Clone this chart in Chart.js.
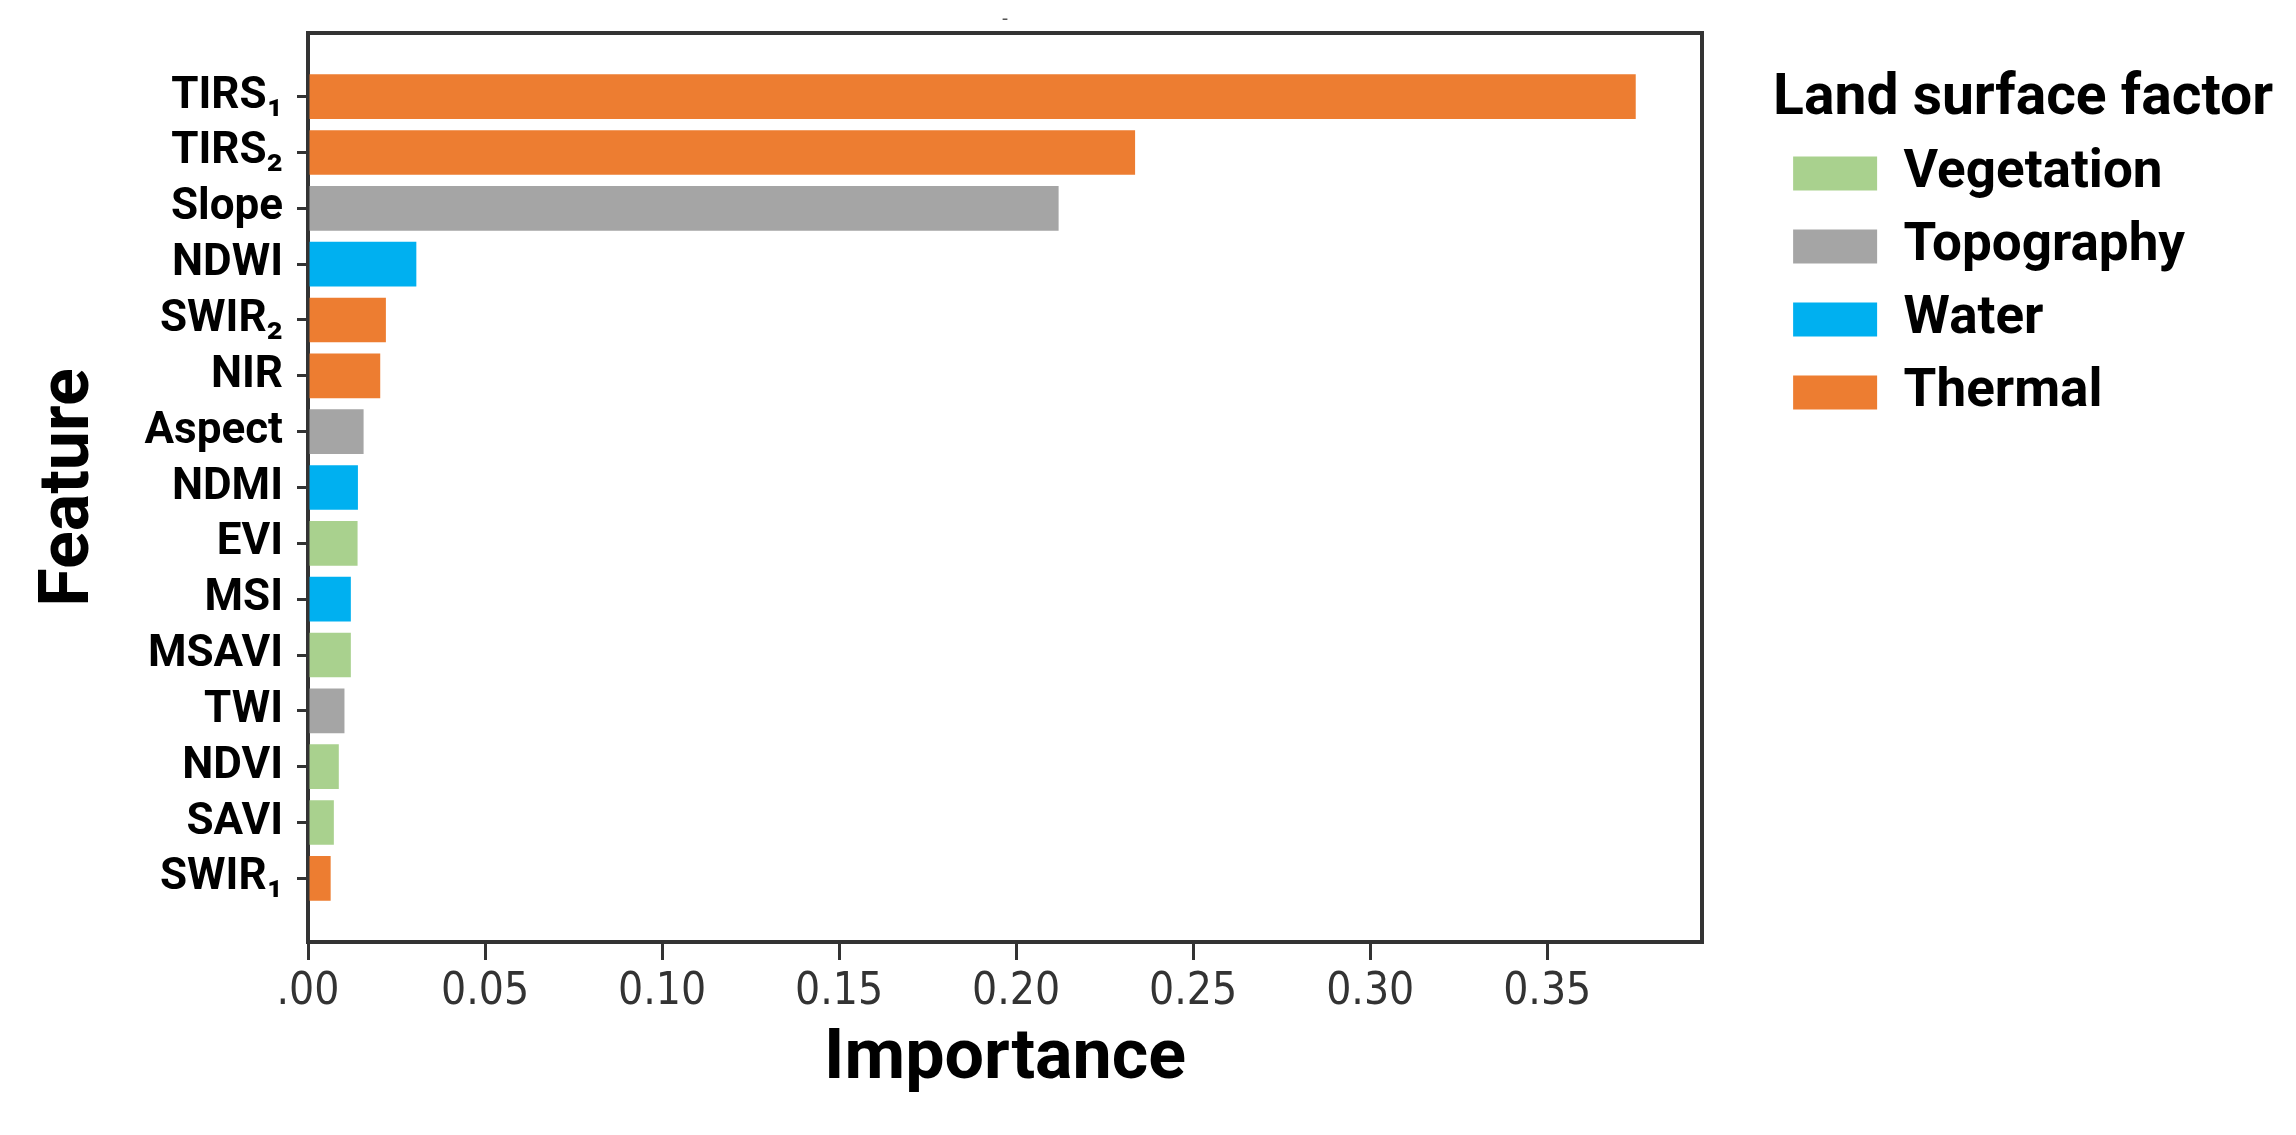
<!DOCTYPE html>
<html>
<head>
<meta charset="utf-8">
<script src="https://cdn.jsdelivr.net/npm/chart.js@4.4.1/dist/chart.umd.min.js"></script>
<style>
  html, body { margin: 0; padding: 0; background: #fff; }
  #wrap { width: 2296px; height: 1135px; position: relative; }
</style>
</head>
<body>
<div id="wrap"><canvas id="importanceChart"></canvas></div>
<script>
// features, top to bottom
const features = ['TIRS₁', 'TIRS₂', 'Slope', 'NDWI', 'SWIR₂', 'NIR', 'Aspect', 'NDMI',
                  'EVI', 'MSI', 'MSAVI', 'TWI', 'NDVI', 'SAVI', 'SWIR₁'];
const importance = [0.375, 0.2336, 0.212, 0.0306, 0.0220, 0.0204, 0.0157, 0.0141,
                    0.0140, 0.0121, 0.0121, 0.0103, 0.0087, 0.0073, 0.0064];
const factorOf = ['Thermal', 'Thermal', 'Topography', 'Water', 'Thermal', 'Thermal', 'Topography', 'Water',
                  'Vegetation', 'Water', 'Vegetation', 'Topography', 'Vegetation', 'Vegetation', 'Thermal'];
const factors = ['Vegetation', 'Topography', 'Water', 'Thermal'];
const factorColors = ['#A9D18E', '#A5A5A5', '#00B0F0', '#ED7D31'];
const xTicks = [0, 0.05, 0.10, 0.15, 0.20, 0.25, 0.30, 0.35];

const BOLD_FONT = "Roboto, 'DejaVu Sans Condensed', sans-serif";
const TICK_FONT = "'DejaVu Sans Condensed', 'DejaVu Sans', sans-serif";
const AXIS = '#333333';

Chart.defaults.font.family = BOLD_FONT;
Chart.defaults.color = '#000';

// one dataset per land surface factor so the legend comes for free
const datasets = factors.map((f, k) => ({
    label: f,
    data: features.map((name, i) => ({ x: importance[i], y: i }))
                  .filter((p) => factorOf[p.y] === f),
    backgroundColor: factorColors[k],
    borderWidth: 0,
    grouped: false,
    barPercentage: 0.8,
    categoryPercentage: 1.0,
}));

// legend title is wider than the items, let it run to the canvas edge instead of being clipped
const wideLegend = {
    id: 'wideLegend',
    afterLayout(chart) {
        if (chart.legend) chart.legend.right = chart.width;
    },
};

const ctx = document.getElementById('importanceChart').getContext('2d');
const chart = new Chart(ctx, {
    type: 'bar',
    data: { datasets: datasets },
    plugins: [wideLegend],
    options: {
        indexAxis: 'y',
        responsive: true,
        maintainAspectRatio: false,
        animation: false,
        layout: { padding: { left: 0, right: 101, top: 0, bottom: 0 } },
        plugins: {
            tooltip: { enabled: false },
            title: {
                display: true,
                text: '-',
                fullSize: false,
                color: '#555',
                font: { size: 20, weight: 'normal' },
                padding: { top: 8, bottom: 0 },
            },
            legend: {
                position: 'right',
                align: 'start',
                maxWidth: 700,
                title: {
                    display: true,
                    text: 'Land surface factor',
                    position: 'start',
                    color: '#000',
                    font: { size: 57, weight: 'bold', lineHeight: 1 },
                    padding: { top: 71, bottom: -1 },
                },
                labels: {
                    boxWidth: 84,
                    boxHeight: 34,
                    padding: 20,
                    color: '#000',
                    font: { size: 53, weight: 'bold' },
                },
            },
        },
        scales: {
            x: {
                type: 'linear',
                position: 'bottom',
                min: 0,
                max: 0.39375,
                offset: false,
                afterFit: (scale) => { scale.height = 193; },
                afterBuildTicks: (scale) => { scale.ticks = xTicks.map((v) => ({ value: v })); },
                ticks: {
                    color: AXIS,
                    padding: 6,
                    font: { family: TICK_FONT, size: 44 },
                    callback: (v) => (v === 0 ? '.00' : v.toFixed(2)),
                },
                grid: { drawOnChartArea: false, offset: false, tickLength: 18, lineWidth: 3, color: AXIS },
                border: { display: true, color: AXIS, width: 4 },
                title: {
                    display: true,
                    text: 'Importance',
                    color: '#000',
                    font: { size: 70, weight: 'bold' },
                    padding: { top: 0, bottom: 33 },
                },
            },
            x2: {
                type: 'linear',
                position: 'top',
                afterFit: (scale) => { scale.height = 1; },
                ticks: { display: false },
                grid: { display: false },
                border: { display: true, color: AXIS, width: 4 },
            },
            y: {
                type: 'linear',
                position: 'left',
                reverse: true,
                offset: false,
                min: -1.14,
                max: features.length - 1 + 1.14,
                afterFit: (scale) => {
                    scale.width = 308;
                    // labels sit well inside the axis, no need for edge room
                    scale.paddingTop = 0;
                    scale.paddingBottom = 0;
                },
                afterBuildTicks: (scale) => { scale.ticks = features.map((f, i) => ({ value: i })); },
                ticks: {
                    color: '#000',
                    padding: 14,
                    autoSkip: false,
                    font: { size: 44, weight: 'bold' },
                    callback: (v) => features[v],
                },
                grid: { drawOnChartArea: false, offset: false, tickLength: 11, lineWidth: 3, color: AXIS },
                border: { display: true, color: AXIS, width: 4 },
                title: {
                    display: true,
                    text: 'Feature',
                    color: '#000',
                    font: { size: 70, weight: 'bold' },
                    padding: { top: 28, bottom: 0 },
                },
            },
            y2: {
                type: 'linear',
                position: 'right',
                afterFit: (scale) => { scale.width = 71; },
                ticks: { display: false },
                grid: { display: false },
                border: { display: true, color: AXIS, width: 4 },
            },
        },
    },
});
</script>
</body>
</html>
